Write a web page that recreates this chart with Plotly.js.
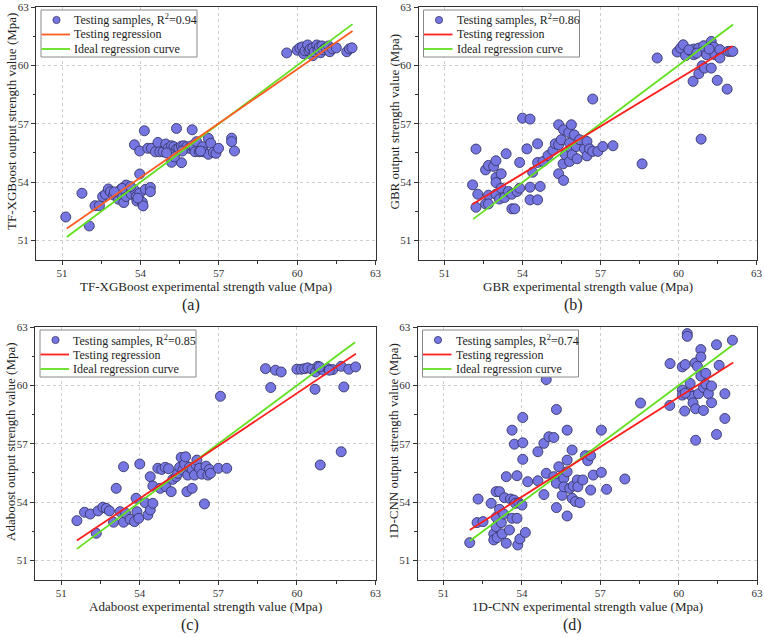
<!DOCTYPE html>
<html>
<head>
<meta charset="utf-8">
<script src="https://cdn.plot.ly/plotly-3.0.1.min.js"></script>
<style>
  html, body { margin: 0; padding: 0; background: #fff; }
  #chart { width: 764px; height: 637px; }
</style>
</head>
<body>
<div id="chart"></div>
<script>
// ---- Test-set predictions: experimental vs. model output (MPa) ----

// (a) TF-XGBoost
const xgbExp = [
  59.6, 60.0, 60.1, 60.2, 60.25, 60.3, 60.4, 60.45, 60.5, 60.6, 60.6, 60.65, 60.75, 60.8, 60.85, 60.9, 60.95, 61.0, 61.1, 61.2, 61.25, 61.35, 61.5, 61.9, 62.0, 62.1,
  54.15, 55.38, 55.98, 53.77, 53.97, 54.28, 54.42, 54.57, 54.67, 54.74, 54.87, 54.97, 55.06, 55.19, 55.28, 55.38, 55.47, 55.57, 55.66, 55.77, 55.86, 55.96, 56.05, 56.15, 56.09, 56.25, 56.38, 56.41, 56.6, 56.69, 56.6, 56.79, 56.89, 56.99, 57.49, 57.49, 57.6, 55.19, 55.57, 53.97, 55.14, 55.3, 55.0, 55.6, 56.3,
  51.14, 51.76, 52.04, 52.26, 52.43, 52.55, 52.66, 52.77, 52.85, 52.97, 53.07, 53.16, 53.26, 53.32, 53.36, 53.45, 53.52, 53.45, 53.65, 53.77, 53.84, 53.86, 53.97, 54.07, 54.1, 54.19, 54.38, 54.38, 53.3, 53.0, 53.62, 53.9
];
const xgbPred = [
  60.64, 60.78, 60.9, 60.95, 60.6, 60.75, 61.05, 60.75, 60.85, 60.9, 60.5, 60.7, 61.05, 60.8, 60.95, 60.65, 61.0, 60.8, 60.9, 61.0, 60.7, 60.85, 60.9, 60.7, 60.85, 60.9,
  56.64, 56.76, 56.69, 55.92, 55.6, 55.74, 55.74, 55.56, 56.04, 55.56, 55.56, 55.96, 55.74, 55.87, 55.82, 55.7, 55.74, 55.85, 55.87, 55.82, 55.74, 55.87, 55.77, 56.08, 55.56, 55.56, 55.82, 55.56, 56.25, 56.0, 55.43, 55.53, 55.48, 55.74, 56.26, 56.08, 55.6, 55.02, 55.0, 54.42, 55.44, 55.3, 55.5, 55.6, 55.6,
  52.21, 53.43, 51.75, 52.79, 52.79, 53.26, 53.38, 53.65, 53.51, 53.34, 53.39, 53.12, 53.65, 53.26, 52.95, 53.85, 53.51, 53.26, 53.38, 53.6, 53.26, 53.03, 53.43, 52.97, 52.78, 53.63, 53.73, 53.51, 53.68, 53.5, 53.77, 53.18
];
const xgbFitX = [51.18, 62.12];
const xgbFitY = [51.62, 61.77];
const xgbIdeal = [51.18, 62.12];

// (b) GBR
const gbrExp = [
  52.08, 52.21, 52.21, 52.28, 52.58, 52.58, 52.69, 52.69, 52.69, 52.89, 52.98, 52.98, 52.98, 52.98, 53.11, 53.18, 53.18, 53.31, 53.37, 53.46, 53.59, 53.59, 53.7, 53.79, 53.89, 53.89,
  54.0, 54.17, 54.29, 54.29, 54.29, 54.39, 54.58, 54.58, 54.58, 54.68, 54.79, 54.98, 55.17, 55.26, 55.39, 55.39, 55.39, 55.49, 55.56, 55.58, 55.58, 55.65, 55.78, 55.81, 55.81, 55.88, 55.88, 55.91, 55.99, 56.07, 56.1, 56.2, 56.38, 56.48, 56.48, 56.58, 56.7, 56.7, 56.9, 57.09, 57.48, 58.6,
  59.18, 59.95, 60.08, 60.18, 60.27, 60.44, 60.56, 60.59, 60.59, 60.78, 60.78, 60.87, 60.91, 60.97, 60.97, 61.0, 61.08, 61.26, 61.26, 61.36, 61.4, 61.49, 61.59, 61.59, 61.87, 61.91, 62.0, 62.09, 60.4, 60.7, 61.18
];
const gbrPred = [
  53.86, 52.71, 55.7, 53.38, 54.63, 52.88, 54.86, 53.33, 52.88, 54.81, 55.1, 54.24, 53.98, 53.38, 53.13, 53.69, 54.43, 53.21, 55.46, 53.52, 53.38, 52.63, 52.63, 53.52, 55.01, 53.69,
  57.29, 55.71, 57.24, 53.74, 53.09, 54.51, 55.97, 55.01, 53.09, 53.78, 55.06, 55.37, 55.63, 55.97, 56.95, 55.92, 54.43, 56.18, 54.94, 54.09, 56.69, 55.41, 56.55, 56.0, 55.06, 56.95, 55.7, 55.41, 56.43, 55.83, 55.2, 56.18, 55.71, 56.09, 55.35, 55.71, 58.27, 55.58, 55.58, 55.83, 55.87, 54.94,
  60.38, 60.69, 60.89, 61.06, 60.5, 60.77, 59.18, 60.84, 60.55, 59.57, 60.89, 56.21, 59.98, 61.01, 60.72, 59.86, 60.55, 59.86, 61.23, 60.94, 60.55, 59.23, 60.81, 60.38, 58.78, 60.72, 60.72, 60.72, 60.8, 60.63, 60.84
];
const gbrFitX = [52.08, 62.08];
const gbrFitY = [52.87, 61.0];
const gbrIdeal = [52.1, 62.1];

// (c) Adaboost
const adaExp = [
  51.6, 51.89, 52.11, 52.34, 52.41, 52.59, 52.72, 52.84, 53.0, 53.1, 53.25, 53.38, 53.38, 53.46, 53.63, 53.8, 53.86, 53.89, 53.96, 54.0, 54.21, 54.31, 54.4, 54.4, 54.5, 54.5,
  54.69, 54.78, 54.84, 54.97, 55.0, 55.1, 55.2, 55.26, 55.39, 55.45, 55.52, 55.58, 55.64, 55.71, 55.75, 55.8, 55.83, 55.9, 56.0, 56.0, 56.09, 56.15, 56.18, 56.28, 56.37, 56.47, 56.53, 56.6, 56.66, 56.7, 57.0, 57.08, 57.32,
  58.8, 59.0, 59.18, 59.4, 60.0, 60.16, 60.29, 60.41, 60.58, 60.69, 60.71, 60.8, 60.89, 60.92, 61.01, 61.18, 61.37, 61.69, 61.69, 61.79, 61.98, 62.24, 61.24, 60.86
];
const adaPred = [
  53.05, 53.48, 53.39, 52.4, 53.55, 53.74, 53.68, 53.55, 52.97, 54.71, 53.51, 55.82, 52.97, 53.43, 53.12, 53.0, 54.2, 53.51, 53.17, 55.96, 53.97, 53.34, 53.6, 55.31, 54.83, 53.94,
  55.74, 54.71, 55.68, 55.79, 54.79, 55.72, 54.54, 55.17, 55.31, 55.48, 55.79, 56.3, 55.65, 55.96, 56.33, 54.54, 55.39, 55.79, 55.68, 54.71, 55.39, 55.91, 56.16, 55.74, 55.44, 53.91, 55.85, 55.39, 55.68, 55.48, 55.74, 59.44, 55.74,
  60.86, 59.89, 60.78, 60.69, 60.83, 60.83, 60.86, 60.9, 60.83, 59.8, 60.69, 60.98, 55.91, 60.86, 60.78, 60.86, 60.81, 60.98, 56.59, 59.92, 60.83, 60.95, 60.78, 60.95
];
const adaFitX = [51.6, 62.25];
const adaFitY = [52.03, 61.62];
const adaIdeal = [51.6, 62.22];

// (d) 1D-CNN
const cnnExp = [
  52.0, 52.32, 52.28, 52.51, 52.82, 52.92, 52.92, 53.01, 53.01, 53.01, 53.05, 53.14, 53.14, 53.21, 53.24, 53.3, 53.33, 53.4, 53.4, 53.52, 53.56, 53.62, 53.62, 53.69, 53.71, 53.75, 53.81, 53.81, 53.84, 53.88, 53.92, 54.0,
  54.03, 54.03, 54.03, 54.13, 54.22, 54.61, 54.61, 54.84, 54.84, 54.93, 54.93, 55.03, 55.22, 55.22, 55.32, 55.32, 55.32, 55.41, 55.54, 55.6, 55.6, 55.73, 55.73, 55.73, 55.73, 55.83, 55.92, 55.92, 55.96, 56.05, 56.12, 56.14, 56.22, 56.33, 56.43, 56.52, 56.63, 56.63, 56.73, 57.04, 57.04, 57.24, 57.94, 58.54,
  59.66, 59.67, 60.14, 60.14, 60.14, 60.23, 60.25, 60.33, 60.33, 60.44, 60.44, 60.5, 60.55, 60.63, 60.65, 60.65, 60.72, 60.76, 60.85, 60.85, 60.85, 60.95, 60.95, 61.04, 61.04, 61.14, 61.26, 61.26, 61.45, 61.45, 61.55, 61.77, 61.77, 62.06, 60.25
];
const cnnPred = [
  51.92, 54.16, 52.95, 53.0, 53.94, 52.37, 52.06, 54.54, 53.22, 52.74, 52.18, 54.54, 53.63, 52.95, 52.37, 53.39, 54.23, 55.31, 51.89, 52.57, 54.16, 57.7, 53.17, 54.11, 56.98, 53.94, 55.36, 53.17, 51.8, 53.97, 52.11, 53.85,
  58.35, 57.05, 56.2, 52.44, 55.05, 56.59, 55.1, 57.02, 54.39, 55.48, 60.3, 57.36, 57.32, 55.31, 58.76, 54.97, 53.72, 55.82, 54.35, 55.22, 54.79, 57.7, 56.16, 55.56, 53.29, 54.71, 56.68, 54.2, 54.83, 54.03, 55.14, 54.79, 53.97, 55.14, 56.39, 56.13, 56.39, 54.62, 55.39, 57.7, 55.53, 54.66, 55.19, 59.09,
  58.97, 61.12, 60.95, 59.76, 59.5, 58.68, 61.07, 62.66, 62.52, 60.1, 59.57, 59.44, 59.1, 61.15, 58.8, 57.18, 60.98, 59.57, 61.84, 61.46, 60.48, 59.89, 58.71, 60.62, 60.07, 59.57, 59.97, 59.11, 62.09, 57.48, 61.03, 59.57, 58.3, 62.32, 59.6
];
const cnnFitX = [52.0, 62.09];
const cnnFitY = [52.57, 61.17];
const cnnIdeal = [52.0, 62.05];

// Axis labels and annotations
const modelNames = ['TF-XGBoost', 'GBR', 'Adaboost', '1D-CNN'];
const r2Values = ['0.94', '0.86', '0.85', '0.74'];
const panelTags = ['(a)', '(b)', '(c)', '(d)'];
const tickVals = [51, 54, 57, 60, 63];
const axisRange = [50, 63];

const FONT = '"Liberation Serif", "Times New Roman", Times, serif';
const INK = '#1e1e1e';
const MARKER_FILL = 'rgb(118,118,226)';
const MARKER_EDGE = 'rgb(55,55,105)';
const GREEN = '#62e01e';
const fitColors = ['#ff5c22', '#ff1e1e', '#ff1e1e', '#ff1e1e'];

const panels = [
  {exp: xgbExp, pred: xgbPred, fx: xgbFitX, fy: xgbFitY, ideal: xgbIdeal},
  {exp: gbrExp, pred: gbrPred, fx: gbrFitX, fy: gbrFitY, ideal: gbrIdeal},
  {exp: adaExp, pred: adaPred, fx: adaFitX, fy: adaFitY, ideal: adaIdeal},
  {exp: cnnExp, pred: cnnPred, fx: cnnFitX, fy: cnnFitY, ideal: cnnIdeal}
];

// Plot areas in pixels: [left, right, top, bottom] on a 764 x 637 page
const W = 764, H = 637;
const boxes = [
  [36, 375.5, 7, 260],
  [418.5, 756.5, 7, 260],
  [35, 375.5, 327, 580],
  [417.5, 757, 327, 580]
];

function axisBase(domain, anchor, isX) {
  const ax = {
    domain: domain,
    anchor: anchor,
    range: axisRange,
    tickmode: 'array',
    tickvals: tickVals,
    ticktext: tickVals.map(String),
    ticks: 'outside',
    ticklen: 4,
    tickwidth: 1,
    tickcolor: '#333',
    showline: true,
    linecolor: '#333',
    linewidth: 1,
    mirror: true,
    showgrid: true,
    gridcolor: '#cdcdcd',
    griddash: 'dot',
    gridwidth: 1,
    zeroline: false,
    tickfont: {family: FONT, size: 11, color: '#333'},
    minor: {ticks: 'outside', ticklen: 2.5, tickcolor: '#333', tick0: 51, dtick: 1.5, showgrid: false},
    fixedrange: true
  };
  if (isX) ax.ticklabelstandoff = -1;
  return ax;
}

const traces = [];
const layout = {
  width: W,
  height: H,
  margin: {l: 0, r: 0, t: 0, b: 0},
  paper_bgcolor: '#fff',
  plot_bgcolor: '#fff',
  showlegend: false,
  font: {family: FONT, color: INK},
  shapes: [],
  annotations: []
};

panels.forEach((p, i) => {
  const n = i === 0 ? '' : String(i + 1);
  const xa = 'x' + n, ya = 'y' + n;
  const [l, r, t, b] = boxes[i];
  layout['xaxis' + n] = axisBase([l / W, r / W], ya, true);
  layout['yaxis' + n] = axisBase([1 - b / H, 1 - t / H], xa, false);

  traces.push({
    type: 'scatter', mode: 'markers', x: p.exp, y: p.pred, xaxis: xa, yaxis: ya,
    marker: {size: 10, color: MARKER_FILL, line: {color: MARKER_EDGE, width: 0.9}},
    hoverinfo: 'x+y'
  });
  traces.push({
    type: 'scatter', mode: 'lines', x: p.ideal, y: p.ideal, xaxis: xa, yaxis: ya,
    line: {color: GREEN, width: 1.8}, hoverinfo: 'skip'
  });
  traces.push({
    type: 'scatter', mode: 'lines', x: p.fx, y: p.fy, xaxis: xa, yaxis: ya,
    line: {color: fitColors[i], width: 1.8}, hoverinfo: 'skip'
  });

  // Legend block drawn in the upper-left corner of each plot
  const pw = r - l, ph = b - t;
  const dx = px => px / pw;               // pixels from left edge -> domain fraction
  const dy = py => 1 - py / ph;           // pixels from top edge -> domain fraction
  const xr = xa + ' domain', yr = ya + ' domain';
  layout.shapes.push({
    type: 'rect', xref: xr, yref: yr, x0: dx(5), x1: dx(161), y0: dy(50), y1: dy(3),
    line: {color: '#8a8a8a', width: 1}, fillcolor: '#fff', layer: 'above'
  });
  layout.shapes.push({
    type: 'circle', xref: xr, yref: yr, xsizemode: 'pixel', ysizemode: 'pixel',
    xanchor: dx(20.5), yanchor: dy(13), x0: -3.6, x1: 3.6, y0: -3.6, y1: 3.6,
    fillcolor: MARKER_FILL, line: {color: MARKER_EDGE, width: 0.8}, layer: 'above'
  });
  layout.shapes.push({
    type: 'line', xref: xr, yref: yr, x0: dx(5.5), x1: dx(34), y0: dy(27.5), y1: dy(27.5),
    line: {color: fitColors[i], width: 1.8}, layer: 'above'
  });
  layout.shapes.push({
    type: 'line', xref: xr, yref: yr, x0: dx(5.5), x1: dx(34), y0: dy(42), y1: dy(42),
    line: {color: GREEN, width: 1.8}, layer: 'above'
  });
  const legendText = [
    'Testing samples, R<sup>2</sup>=' + r2Values[i],
    'Testing regression',
    'Ideal regression curve'
  ];
  [13, 27.5, 42].forEach((py, k) => {
    layout.annotations.push({
      xref: xr, yref: yr, x: dx(36), y: dy(py), xanchor: 'left', yanchor: 'middle',
      text: legendText[k], showarrow: false,
      font: {family: FONT, size: 12, color: INK}
    });
  });

  // Axis titles
  const cx = (l + r) / 2;
  layout.annotations.push({
    xref: 'paper', yref: 'paper', x: cx / W, y: 1 - (b + 26.5) / H,
    xanchor: 'center', yanchor: 'middle', showarrow: false,
    text: modelNames[i] + ' experimental strength value (Mpa)',
    font: {family: FONT, size: 13, color: INK}
  });
  layout.annotations.push({
    xref: 'paper', yref: 'paper', x: (l - 25) / W, y: 1 - (t + 115) / H,
    xanchor: 'center', yanchor: 'middle', textangle: -90, showarrow: false,
    text: modelNames[i] + ' output strength value (Mpa)',
    font: {family: FONT, size: 13, color: INK}
  });
  // Panel tag
  layout.annotations.push({
    xref: 'paper', yref: 'paper', x: (l + 155) / W, y: 1 - (b + 44.5) / H,
    xanchor: 'center', yanchor: 'middle', showarrow: false,
    text: panelTags[i],
    font: {family: FONT, size: 16, color: INK}
  });
});

Plotly.newPlot('chart', traces, layout, {displayModeBar: false, staticPlot: true});
</script>
</body>
</html>
